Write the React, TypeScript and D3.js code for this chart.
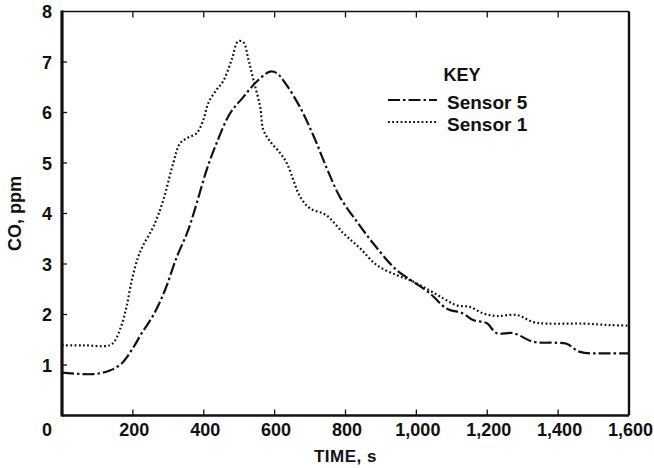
import React from "react";
import * as d3 from "d3";

const xTicks = [200, 400, 600, 800, 1000, 1200, 1400];
const xTickLabels = ["200", "400", "600", "800", "1,000", "1,200", "1,400", "1,600"];
const xTickLabelValues = [200, 400, 600, 800, 1000, 1200, 1400, 1600];
const yTicks = [1, 2, 3, 4, 5, 6, 7];
const yTickLabels = ["1", "2", "3", "4", "5", "6", "7", "8"];
const yTickLabelValues = [1, 2, 3, 4, 5, 6, 7, 8];

const sensor1Time = [0, 60, 135, 150, 168, 182, 197, 215, 229, 258, 286, 314, 333, 352, 380, 399, 413, 436, 455, 479, 497, 512, 526, 540, 559, 568, 587, 615, 634, 653, 672, 700, 745, 794, 841, 888, 944, 982, 1029, 1076, 1114, 1151, 1189, 1227, 1283, 1330, 1368, 1471, 1546, 1600];
const sensor1Value = [1.39, 1.39, 1.39, 1.49, 1.79, 2.15, 2.68, 3.14, 3.37, 3.74, 4.27, 5.0, 5.39, 5.49, 5.59, 5.86, 6.19, 6.45, 6.62, 7.05, 7.41, 7.39, 7.05, 6.65, 6.12, 5.66, 5.43, 5.2, 5.0, 4.66, 4.33, 4.1, 3.97, 3.61, 3.31, 2.98, 2.78, 2.68, 2.51, 2.32, 2.18, 2.15, 2.02, 1.97, 1.99, 1.85, 1.82, 1.82, 1.79, 1.78];

const sensor5Time = [0, 88, 135, 168, 197, 225, 258, 291, 324, 356, 380, 408, 436, 474, 512, 549, 587, 606, 634, 672, 709, 747, 784, 832, 878, 944, 991, 1038, 1085, 1132, 1160, 1198, 1227, 1274, 1330, 1396, 1424, 1462, 1546, 1600];
const sensor5Value = [0.85, 0.82, 0.89, 1.03, 1.3, 1.63, 1.99, 2.49, 3.14, 3.67, 4.2, 4.86, 5.39, 5.98, 6.31, 6.61, 6.81, 6.78, 6.54, 6.1, 5.55, 4.9, 4.33, 3.84, 3.41, 2.88, 2.65, 2.42, 2.12, 2.02, 1.89, 1.83, 1.63, 1.63, 1.46, 1.44, 1.42, 1.26, 1.23, 1.23];

const seriesNames = ["Sensor 5", "Sensor 1"];

const W = 654;
const H = 468;
const left = 62;
const right = 629;
const top = 11.5;
const bottom = 415.5;
const FONT = "'Liberation Sans', Arial, sans-serif";

export default function App() {
  const x = d3.scaleLinear().domain([0, 1600]).range([left, right]);
  const y = d3.scaleLinear().domain([0, 8]).range([bottom, top]);

  const gen = d3
    .line<[number, number]>()
    .x((d) => x(d[0]))
    .y((d) => y(d[1]))
    .curve(d3.curveCatmullRom.alpha(0.5));

  const s1 = sensor1Time.map((t, i) => [t, sensor1Value[i]] as [number, number]);
  const s5 = sensor5Time.map((t, i) => [t, sensor5Value[i]] as [number, number]);

  const dash5 = "12 3 2.5 3";
  const dash1 = "1.8 2.4";

  return (
    <svg
      width={W}
      height={H}
      style={{ position: "absolute", left: 0, top: 0, background: "#fff" }}
      fontFamily={FONT}
    >
      <rect x={0} y={0} width={W} height={H} fill="#fff" />
      <path d={gen(s5) || ""} fill="none" stroke="#111" strokeWidth={2.2} strokeDasharray={dash5} />
      <path d={gen(s1) || ""} fill="none" stroke="#111" strokeWidth={2.2} strokeDasharray={dash1} />

      <line x1={left} x2={right} y1={top} y2={top} stroke="#111" strokeWidth={1.6} />
      <line x1={right} x2={right} y1={top} y2={bottom} stroke="#111" strokeWidth={2.4} />
      <line x1={left} x2={right} y1={bottom} y2={bottom} stroke="#111" strokeWidth={2.6} />
      <line x1={left} x2={left} y1={top - 1} y2={bottom + 1} stroke="#111" strokeWidth={3.2} />

      {xTicks.map((t) => (
        <g key={"xt" + t}>
          <line x1={x(t)} x2={x(t)} y1={bottom} y2={bottom - 6} stroke="#111" strokeWidth={1.3} />
          <line x1={x(t)} x2={x(t)} y1={top} y2={top + 6} stroke="#111" strokeWidth={1.3} />
        </g>
      ))}
      {yTicks.map((v) => (
        <line key={"yt" + v} x1={left} x2={left + 5} y1={y(v)} y2={y(v)} stroke="#111" strokeWidth={1.3} />
      ))}

      {xTickLabelValues.map((t, i) => (
        <text key={"xl" + t} x={x(t) + 1.5} y={436} textAnchor="middle" fontSize={18} fontWeight="bold" fill="#111">
          {xTickLabels[i]}
        </text>
      ))}
      {yTickLabelValues.map((v, i) => (
        <text key={"yl" + v} x={47} y={y(v) + 6.5} textAnchor="middle" fontSize={18} fontWeight="bold" fill="#111">
          {yTickLabels[i]}
        </text>
      ))}
      <text x={47} y={436} textAnchor="middle" fontSize={18} fontWeight="bold" fill="#111">0</text>

      <text x={(left + right) / 2} y={462} textAnchor="middle" fontSize={17} fontWeight="bold" fill="#111" letterSpacing={0.5}>
        TIME, s
      </text>
      <text
        transform={`translate(21, ${(top + bottom) / 2}) rotate(-90)`}
        textAnchor="middle"
        fontSize={18}
        fontWeight="bold"
        fill="#111"
      >
        CO, ppm
      </text>

      <text x={462} y={81} textAnchor="middle" fontSize={18} fontWeight="bold" fill="#111">KEY</text>
      <line x1={388} x2={437} y1={100} y2={100} stroke="#111" strokeWidth={2.2} strokeDasharray={dash5} />
      <text x={447} y={108.5} fontSize={19} fontWeight="bold" fill="#111">{seriesNames[0]}</text>
      <line x1={388} x2={437} y1={122} y2={122} stroke="#111" strokeWidth={2.2} strokeDasharray={dash1} />
      <text x={447} y={130.5} fontSize={19} fontWeight="bold" fill="#111">{seriesNames[1]}</text>
    </svg>
  );
}
